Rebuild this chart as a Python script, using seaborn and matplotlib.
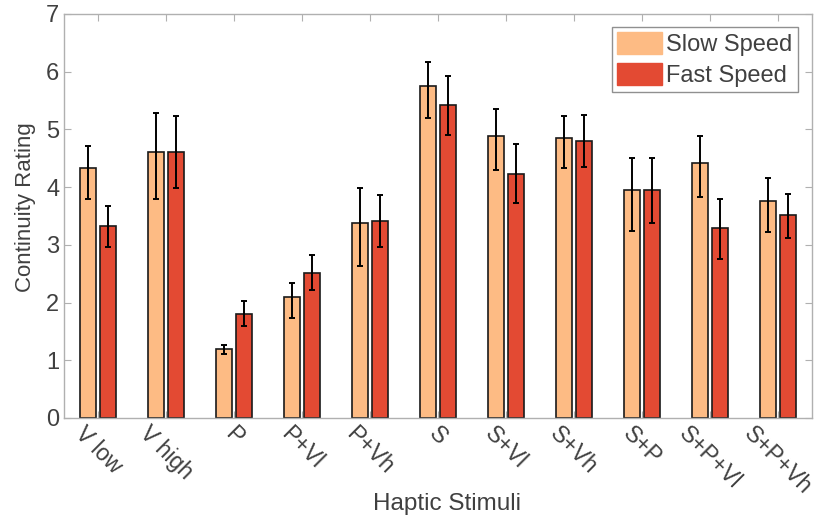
import numpy as np
import pandas as pd
import matplotlib
matplotlib.use("Agg")
import matplotlib.pyplot as plt
import seaborn as sns
from matplotlib.patches import Patch

# dados (media e limites das barras de erro)
estimulos = ['V low', 'V high', 'P', 'P+Vl', 'P+Vh', 'S', 'S+Vl', 'S+Vh',
             'S+P', 'S+P+Vl', 'S+P+Vh']
lento_media = [4.33, 4.61, 1.19, 2.10, 3.38, 5.75, 4.89, 4.85, 3.95, 4.42, 3.76]
lento_inf = [3.79, 3.79, 1.11, 1.73, 2.63, 5.19, 4.29, 4.33, 3.24, 3.83, 3.22]
lento_sup = [4.71, 5.29, 1.26, 2.33, 3.99, 6.17, 5.36, 5.24, 4.50, 4.88, 4.15]
rapido_media = [3.33, 4.61, 1.81, 2.52, 3.42, 5.42, 4.23, 4.80, 3.95, 3.29, 3.52]
rapido_inf = [2.97, 3.99, 1.59, 2.21, 2.97, 4.90, 3.72, 4.34, 3.38, 2.76, 3.12]
rapido_sup = [3.68, 5.23, 2.03, 2.82, 3.87, 5.92, 4.74, 5.25, 4.50, 3.80, 3.88]

grupos = ['Slow Speed', 'Fast Speed']
cores = ['#FDBB84', '#E34A33']

dados = pd.DataFrame({
    'Estimulo': estimulos * 2,
    'Velocidade': [grupos[0]] * len(estimulos) + [grupos[1]] * len(estimulos),
    'Nota': lento_media + rapido_media,
})

cinza_texto = '#404040'
cinza_eixo = '#B0B0B0'
plt.rcParams['font.family'] = ['Liberation Sans', 'DejaVu Sans']

fig = plt.figure(figsize=(8.23, 5.16), dpi=100)
ax = fig.add_axes([0.078, 0.19, 0.9086, 0.7829])

sns.barplot(data=dados, x='Estimulo', y='Nota', hue='Velocidade',
            palette=cores, saturation=1, width=0.58, gap=0.19, errorbar=None,
            edgecolor='#1a1a1a', linewidth=1.2, legend=False, ax=ax)

# barras de erro assimetricas
limites = [(lento_media, lento_inf, lento_sup), (rapido_media, rapido_inf, rapido_sup)]
for cont, (med, inf, sup) in zip(ax.containers, limites):
    xs = [b.get_x() + b.get_width() / 2 for b in cont]
    med = np.array(med)
    erro = [med - np.array(inf), np.array(sup) - med]
    ax.errorbar(xs, med, yerr=erro, fmt='none', ecolor='black',
                elinewidth=1.4, capsize=2.5, capthick=1.4, zorder=5)

ax.set_xlim(-0.5, len(estimulos) - 0.5)
ax.set_ylim(0, 7)
ax.set_yticks(range(0, 8))
ax.set_xticks(range(len(estimulos)))
ax.set_xticklabels(estimulos, rotation=-45, ha='center', fontsize=16.5, color=cinza_texto)
ax.tick_params(axis='y', labelsize=17, labelcolor=cinza_texto)
ax.tick_params(direction='in', top=True, right=True, length=5,
               color=cinza_eixo, width=0.8)
ax.tick_params(axis='x', pad=3)

for lado in ['left', 'right', 'top', 'bottom']:
    ax.spines[lado].set_color(cinza_eixo)
    ax.spines[lado].set_linewidth(1.0)

ax.set_xlabel('Haptic Stimuli', fontsize=17.5, color=cinza_texto)
ax.xaxis.set_label_coords(0.512, -0.185)
ax.set_ylabel('Continuity Rating', fontsize=16, color=cinza_texto)
ax.yaxis.set_label_coords(-0.038, 0.522)

alcas = [Patch(facecolor=c, edgecolor=c) for c in cores]
leg = ax.legend(alcas, grupos, loc='upper right', bbox_to_anchor=(0.981, 0.968),
                fontsize=17, handlelength=1.9, handleheight=1.05,
                labelspacing=0.28, handletextpad=0.2, borderpad=0.22,
                borderaxespad=0, fancybox=False, framealpha=1)
leg.get_frame().set_edgecolor('#909090')
leg.get_frame().set_linewidth(1.0)
for t in leg.get_texts():
    t.set_color(cinza_texto)

fig.savefig('out.png', dpi=100)
